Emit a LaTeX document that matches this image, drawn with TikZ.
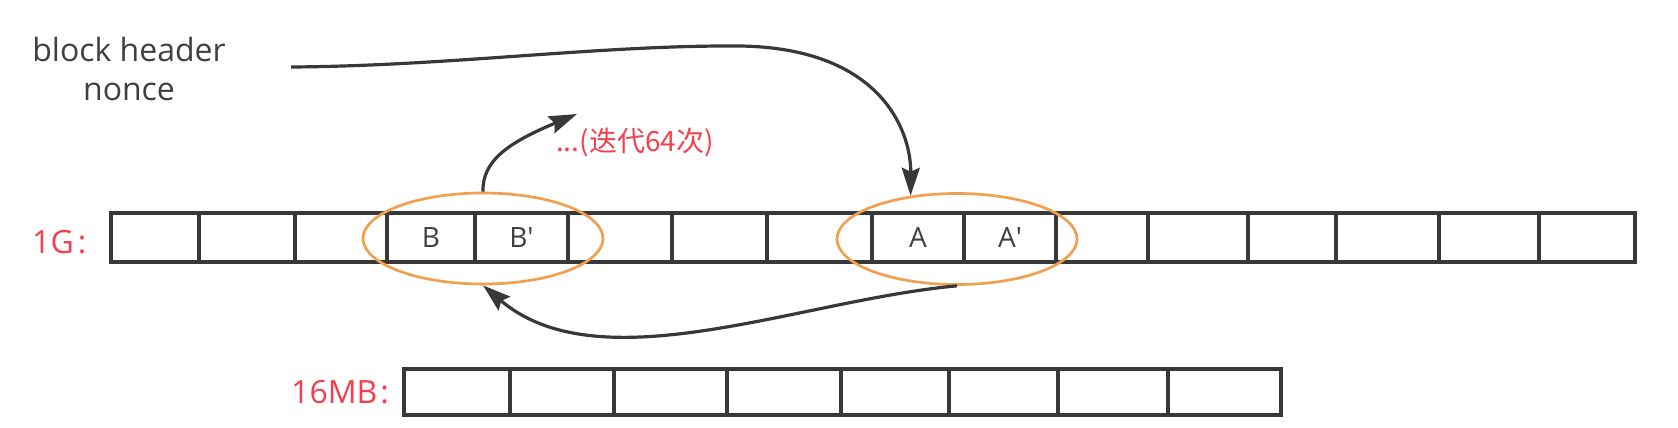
\documentclass[tikz,border=0pt]{standalone}
\usepackage{fontspec}
\setmainfont{Open Sans}
\newfontfamily\cjk{Noto Sans CJK SC}
\usetikzlibrary{shapes.geometric,arrows.meta}
\definecolor{ink}{HTML}{383838}
\definecolor{txt}{HTML}{404040}
\definecolor{redlbl}{HTML}{F43F4F}
\definecolor{orng}{HTML}{F0A04E}
\tikzset{
 cell/.style={draw=ink, line width=3.1pt, rectangle, inner sep=0pt, text=txt, font=\fontsize{28}{30}\selectfont},
 ring/.style={draw=orng, line width=2.7pt, ellipse, inner sep=0pt, minimum width=240pt, minimum height=91pt},
 conn/.style={draw=ink, line width=3.2pt, -{Stealth[length=28pt,width=18pt,inset=4pt]}},
 redtxt/.style={text=redlbl, inner sep=0pt},
 plain/.style={text=txt, inner sep=0pt, font=\fontsize{32}{38}\selectfont},
}
\begin{document}
\begin{tikzpicture}[x=1pt,y=-1pt]
\useasboundingbox (0,0) rectangle (1678,428);
% 1G row
\foreach \n/\a/\b/\t in {1/111/199/{},2/199/295/{},3/295/387/{},4/387/475/{B},5/475/568/{B\textquotesingle},6/568/672/{},7/672/767/{},8/767/872/{},9/872/964/{A},10/964/1056/{A\textquotesingle},11/1056/1148/{},12/1148/1248/{},13/1248/1336/{},14/1336/1439/{},15/1439/1539/{},16/1539/1635/{}}{
  \pgfmathsetmacro\w{\b-\a}
  \pgfmathsetmacro\c{(\a+\b)/2}
  \node[cell, minimum width=\w pt, minimum height=49pt] (g\n) at (\c,237.5) {\t};
}
% 16MB row
\foreach \n/\a/\b in {1/404/510,2/510/614,3/614/727,4/727/841,5/841/949,6/949/1058,7/1058/1168,8/1168/1281}{
  \pgfmathsetmacro\w{\b-\a}
  \pgfmathsetmacro\c{(\a+\b)/2}
  \node[cell, minimum width=\w pt, minimum height=46pt] (m\n) at (\c,392) {};
}
% ellipses
\node[ring] (ellB) at (483,238.5) {};
\node[ring] (ellA) at (957,239) {};
% labels
\node[plain, anchor=base] (hdr1) at (129,62) {block header};
\node[plain, anchor=base] (hdr2) at (129,100) {nonce};
\node[redtxt, font=\fontsize{32}{34}\selectfont, anchor=base west] (lg) at (32,253) {1G\hspace{4pt}:};
\node[redtxt, font=\fontsize{32}{34}\selectfont, anchor=base west] (lm) at (291,403) {16MB\hspace{3pt}:};
\node[redtxt, font=\cjk\fontsize{28}{30}\selectfont, anchor=base west] (iter) at (556,151) {...(迭代64次)};
% connectors
\coordinate (hstart) at (291,67);
\coordinate (itertip) at (577,114);
\draw[conn] (hstart) .. controls (450,66) and (600,45) .. (740,46) .. controls (880,48) and (911,130) .. (ellA.137);
\draw[conn] (ellA.south) .. controls (800,300) and (600,385) .. (ellB.south);
\draw[conn] (ellB.north) .. controls (482,160) and (510,142) .. (itertip);
\end{tikzpicture}
\end{document}
